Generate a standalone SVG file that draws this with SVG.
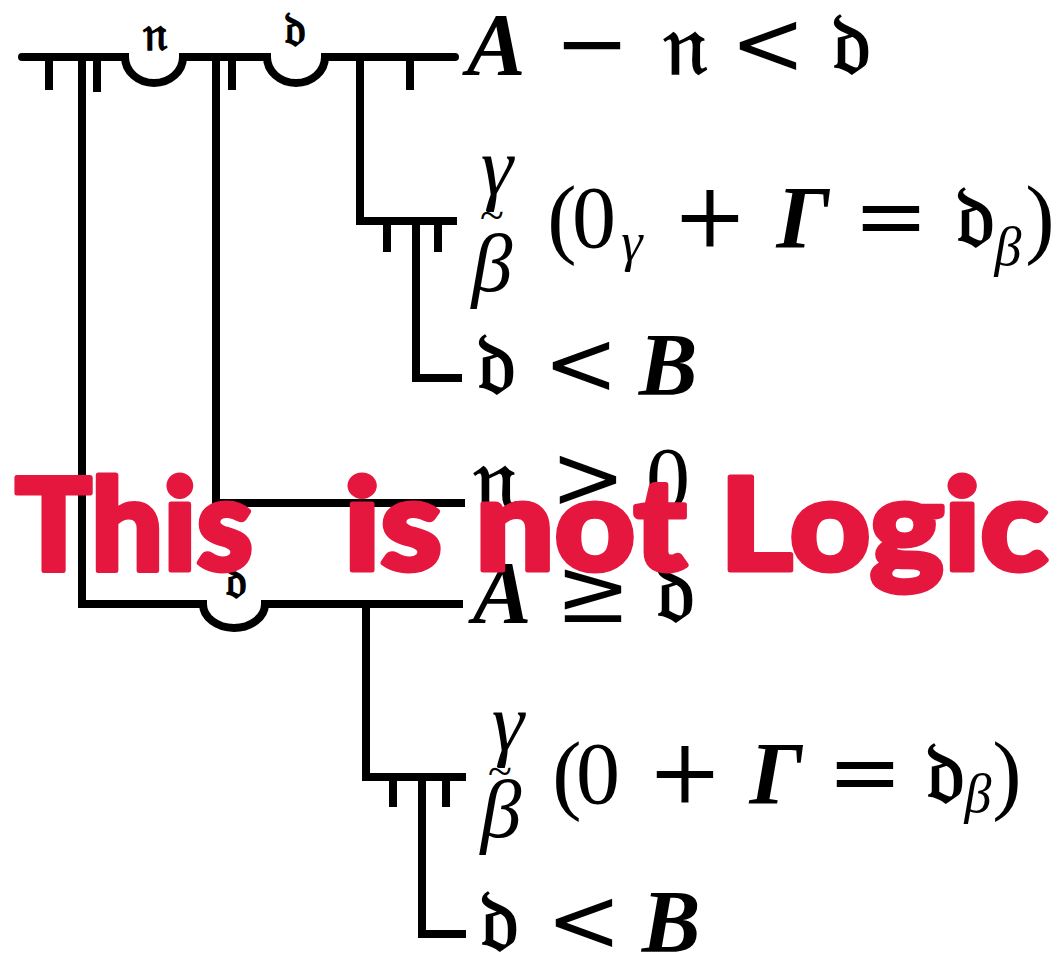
<svg xmlns="http://www.w3.org/2000/svg" width="1058" height="958" viewBox="0 0 1058 958">
<style>
.ln{stroke:#000;stroke-width:8;fill:none;stroke-linejoin:miter}
.m{font-family:"Liberation Serif","DejaVu Serif",serif;fill:#000;font-size:88px;text-anchor:middle}
.it{font-style:italic}
.bi{font-style:italic;font-weight:bold}
.op{font-family:"DejaVu Serif","Liberation Serif",serif;font-size:90px}
.fk{font-family:"DejaVu Serif","DejaVu Sans","Noto Sans",serif;font-weight:normal;stroke:#000;stroke-width:1.6}
.gk{font-size:82px;font-style:italic}
.sb{font-size:54px;font-style:italic}
.sm{font-size:48px}
.wm{font-family:Lato,"Liberation Sans",sans-serif;font-weight:900;fill:#E5173F;stroke:#E5173F;stroke-width:5;stroke-linejoin:round;font-size:128px}
</style>
<rect width="1058" height="958" fill="#fff"/>
<g id="connectors">
<path class="ln" stroke-linecap="round" d="M22,57 H125 A29,26 0 0 0 183,57 H267 A29,26 0 0 0 325,57 H455"/>
<path class="ln" d="M49,57 V90 M97,57 V92 M232,57 V90 M410,57 V90"/>
<path class="ln" d="M82,57 V604 H203 A31,24 0 0 0 265,604 H463"/>
<path class="ln" d="M216,57 V503 H465"/>
<path class="ln" d="M360,57 V221 H457 M387,221 V252 M438,221 V252 M416,221 V378 H462"/>
<path class="ln" d="M366,603 V777 H466 M393,777 V807 M446,777 V807 M422,777 V934 H466"/>
</g>
<g id="quantifier-labels" class="m">
<text class="fk sm" x="155" y="50">𝔫</text>
<text class="fk sm" x="295" y="46">𝔡</text>
<text class="fk sm" x="236" y="598">𝔡</text>
</g>
<g id="f1" class="m">
<text class="bi" x="496" y="74">A</text>
<text class="op" x="592" y="74">−</text>
<text class="fk" x="685" y="74">𝔫</text>
<text class="op" x="768" y="74">&lt;</text>
<text class="fk" x="851" y="74">𝔡</text>
</g>
<g id="f2" class="m">
<text class="gk" x="497" y="194">γ</text>
<text x="492" y="230" font-size="44">~</text>
<text class="gk" x="492" y="291">β</text>
<text x="562" y="247">(</text>
<text x="594" y="247">0</text>
<text class="sb" x="632" y="260">γ</text>
<text class="op" x="710" y="247">+</text>
<text class="bi" x="803" y="247">Γ</text>
<text class="op" x="891" y="247">=</text>
<text class="fk" x="975" y="247">𝔡</text>
<text class="sb" x="1008" y="265">β</text>
<text x="1040" y="247">)</text>
</g>
<g id="f3" class="m">
<text class="fk" x="496" y="394">𝔡</text>
<text class="op" x="581" y="394">&lt;</text>
<text class="bi" x="668" y="394">B</text>
</g>
<g id="f4" class="m">
<text class="fk" x="495" y="508">𝔫</text>
<text class="op" x="588" y="508">&gt;</text>
<text x="668" y="508">0</text>
</g>
<g id="f5" class="m">
<text class="bi" x="502" y="622">A</text>
<text class="op" x="593" y="622">≥</text>
<text class="fk" x="675" y="622">𝔡</text>
</g>
<g id="f6" class="m">
<text class="gk" x="508" y="750">γ</text>
<text x="500" y="786" font-size="44">~</text>
<text class="gk" x="501" y="837">β</text>
<text x="567" y="803">(</text>
<text x="598" y="803">0</text>
<text class="op" x="685" y="803">+</text>
<text class="bi" x="776" y="803">Γ</text>
<text class="op" x="865" y="803">=</text>
<text class="fk" x="945" y="803">𝔡</text>
<text class="sb" x="978" y="812">β</text>
<text x="1007" y="803">)</text>
</g>
<g id="f7" class="m">
<text class="fk" x="499" y="951">𝔡</text>
<text class="op" x="584" y="951">&lt;</text>
<text class="bi" x="671" y="951">B</text>
</g>
<g id="watermark" class="wm">
<text x="15" y="570" textLength="238" lengthAdjust="spacingAndGlyphs">This</text>
<text x="344" y="570" textLength="704" lengthAdjust="spacingAndGlyphs">is not Logic</text>
</g>
</svg>
